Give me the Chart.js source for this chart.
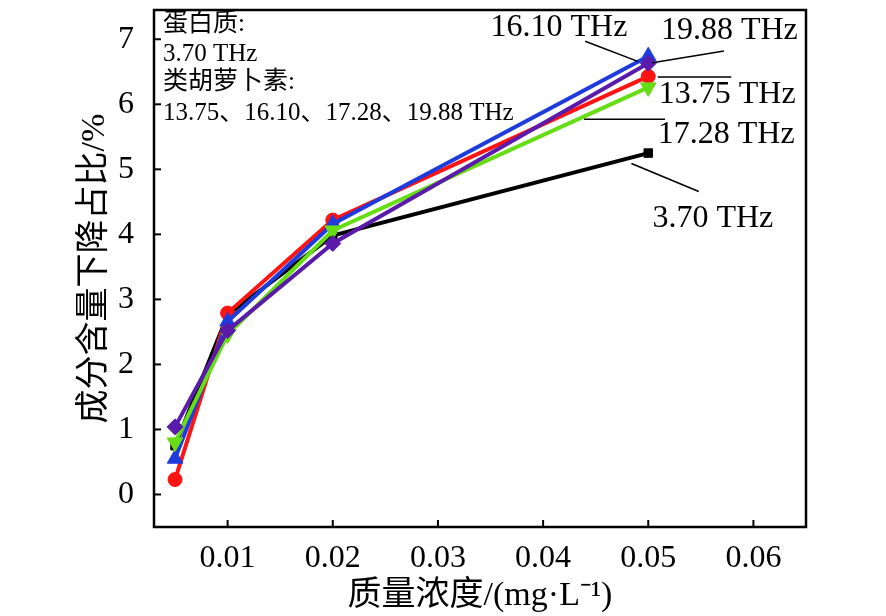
<!DOCTYPE html>
<html>
<head>
<meta charset="utf-8">
<script src="https://cdn.jsdelivr.net/npm/chart.js@4"></script>
<style>
  html, body { margin: 0; padding: 0; background: #fff; }
  #wrap { width: 886px; height: 616px; }
</style>
</head>
<body>
<div id="wrap"><canvas id="chart"></canvas></div>
<script>
// ---- data ----
const concentrations = [0.005, 0.01, 0.02, 0.05];
const series370  = [0.75, 2.76, 3.98, 5.25];   // 3.70 THz (protein)
const series1375 = [0.23, 2.79, 4.22, 6.43];   // 13.75 THz
const series1610 = [0.55, 2.66, 4.16, 6.74];   // 16.10 THz
const series1728 = [0.80, 2.46, 4.06, 6.26];   // 17.28 THz
const series1988 = [1.04, 2.52, 3.86, 6.63];   // 19.88 THz

const xTicks = [0.01, 0.02, 0.03, 0.04, 0.05, 0.06];
const yTicks = [0, 1, 2, 3, 4, 5, 6, 7];

const serif = "'Liberation Serif', 'Times New Roman', 'Noto Sans CJK SC', serif";

function pts(values) {
    return concentrations.map((c, i) => ({ x: c, y: values[i] }));
}

function makeSet(label, values, color, style, radius, rotation, order) {
    return {
        label: label,
        data: pts(values),
        borderColor: color,
        backgroundColor: color,
        borderWidth: 4,
        pointStyle: style,
        pointRadius: radius,
        pointRotation: rotation,
        pointBorderWidth: 1,
        tension: 0,
        order: order
    };
}

// labels with leader lines, in data units
const callouts = [
    { text: '16.10 THz', tx: 0.0350, ty: 7.18, line: [[0.0440, 6.97], [0.0490, 6.66]] },
    { text: '19.88 THz', tx: 0.0512, ty: 7.13, line: [[0.0504, 6.64], [0.0572, 6.82]] },
    { text: '13.75 THz', tx: 0.0510, ty: 6.15, line: [[0.0509, 6.42], [0.0579, 6.42]] },
    { text: '17.28 THz', tx: 0.0509, ty: 5.53, line: [[0.0439, 5.77], [0.0516, 5.77]] },
    { text: '3.70 THz',  tx: 0.0504, ty: 4.24, line: [[0.0484, 5.09], [0.0548, 4.66]] }
];

const noteLines = ['蛋白质:', '3.70 THz', '类胡萝卜素:', '13.75、16.10、17.28、19.88 THz'];
const noteY = [7.23, 6.77, 6.33, 5.86];
const noteX = 0.00386;

// frame, inward ticks and annotations
const decorations = {
    id: 'decorations',
    beforeDatasetsDraw(chart) {
        const { ctx, chartArea: a, scales: { x, y } } = chart;
        ctx.save();
        ctx.strokeStyle = '#000';
        ctx.lineWidth = 2;
        xTicks.forEach(v => {
            const px = x.getPixelForValue(v);
            ctx.beginPath();
            ctx.moveTo(px, a.bottom);
            ctx.lineTo(px, a.bottom - 7);
            ctx.stroke();
        });
        yTicks.forEach(v => {
            const py = y.getPixelForValue(v);
            ctx.beginPath();
            ctx.moveTo(a.left, py);
            ctx.lineTo(a.left + 7, py);
            ctx.stroke();
        });
        ctx.restore();
    },
    afterDraw(chart) {
        const { ctx, chartArea: a, scales: { x, y } } = chart;
        ctx.save();
        ctx.strokeStyle = '#000';
        ctx.lineWidth = 2.5;
        ctx.strokeRect(a.left, a.top, a.right - a.left, a.bottom - a.top);

        ctx.fillStyle = '#000';
        ctx.textBaseline = 'middle';
        ctx.textAlign = 'left';
        ctx.font = '25px ' + serif;
        noteLines.forEach((t, i) => {
            ctx.fillText(t, x.getPixelForValue(noteX), y.getPixelForValue(noteY[i]));
        });

        ctx.font = '32px ' + serif;
        ctx.lineWidth = 1.6;
        callouts.forEach(c => {
            ctx.beginPath();
            ctx.moveTo(x.getPixelForValue(c.line[0][0]), y.getPixelForValue(c.line[0][1]));
            ctx.lineTo(x.getPixelForValue(c.line[1][0]), y.getPixelForValue(c.line[1][1]));
            ctx.stroke();
            ctx.fillText(c.text, x.getPixelForValue(c.tx), y.getPixelForValue(c.ty));
        });
        ctx.restore();
    }
};

new Chart(document.getElementById('chart'), {
    type: 'line',
    data: {
        datasets: [
            makeSet('3.70 THz', series370, '#000000', 'rect', 6, 0, 5),
            makeSet('13.75 THz', series1375, '#ff1414', 'circle', 7, 0, 4),
            makeSet('16.10 THz', series1610, '#1e3cdc', 'triangle', 9, 0, 3),
            makeSet('17.28 THz', series1728, '#66dd14', 'triangle', 9, 180, 2),
            makeSet('19.88 THz', series1988, '#5a1aaa', 'rectRot', 8, 0, 1)
        ]
    },
    options: {
        responsive: true,
        maintainAspectRatio: false,
        animation: false,
        layout: { padding: { left: 0, right: 80, top: 1, bottom: 0 } },
        plugins: { legend: { display: false }, tooltip: { enabled: false } },
        scales: {
            x: {
                type: 'linear',
                min: 0.003,
                max: 0.065,
                grid: { display: false },
                border: { display: false },
                afterBuildTicks: s => { s.ticks = xTicks.map(v => ({ value: v })); },
                afterFit: s => { s.height = 89; s.paddingLeft = 0; s.paddingRight = 0; },
                ticks: {
                    color: '#000',
                    padding: 4,
                    maxRotation: 0,
                    font: { family: serif, size: 32 },
                    callback: v => v.toFixed(2)
                },
                title: {
                    display: true,
                    text: '质量浓度/(mg·L⁻¹)',
                    color: '#000',
                    font: { family: serif, size: 34 },
                    padding: { top: 0, bottom: 0 }
                }
            },
            y: {
                min: -0.5,
                max: 7.45,
                grid: { display: false },
                border: { display: false },
                afterBuildTicks: s => { s.ticks = yTicks.map(v => ({ value: v })); },
                afterFit: s => { s.width = 154; s.paddingTop = 0; s.paddingBottom = 0; },
                ticks: {
                    color: '#000',
                    padding: 12,
                    font: { family: serif, size: 32 }
                },
                title: {
                    display: true,
                    text: '成分含量下降占比/%',
                    color: '#000',
                    font: { family: serif, size: 34 },
                    padding: { top: 75, bottom: 0 }
                }
            }
        }
    },
    plugins: [decorations]
});
</script>
</body>
</html>
